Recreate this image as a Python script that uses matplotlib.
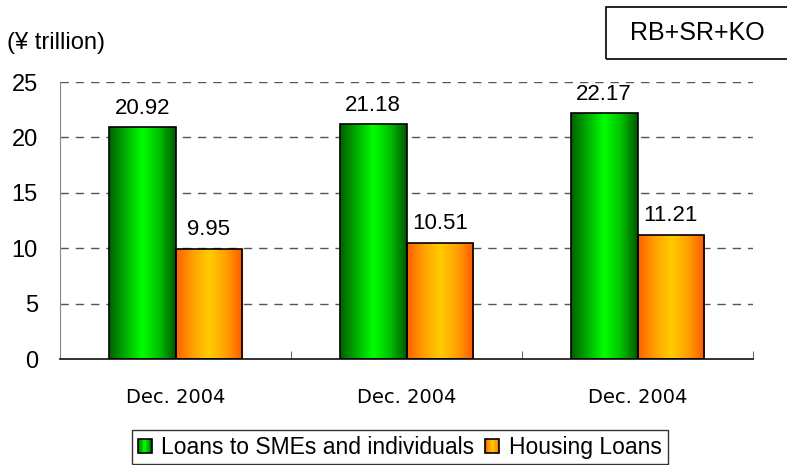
import numpy as np
import matplotlib
matplotlib.use("Agg")
import matplotlib.pyplot as plt
from matplotlib.colors import LinearSegmentedColormap
from matplotlib.patches import Rectangle
from matplotlib.legend_handler import HandlerPatch

categories = ["Dec. 2004", "Dec. 2004", "Dec. 2004"]
sme_loans = [20.92, 21.18, 22.17]
housing_loans = [9.95, 10.51, 11.21]
series_names = ["Loans to SMEs and individuals", "Housing Loans"]
y_ticks = [0, 5, 10, 15, 20, 25]

plt.rcParams['font.family'] = ['Liberation Sans', 'DejaVu Sans']

green_cmap = LinearSegmentedColormap.from_list(
    "g", ["#006000", "#00b000", "#00ff00", "#00c000", "#005800"])
orange_cmap = LinearSegmentedColormap.from_list(
    "o", ["#ff6000", "#ffa000", "#ffcc00", "#ffa000", "#ff5800"])

fig = plt.figure(figsize=(7.87, 4.65), dpi=100)
ax = fig.add_axes([60/787, 1-359/465, (753-60)/787, (359-82)/465])

x = np.arange(len(categories))
w = 0.288
grad = np.linspace(0, 1, 256).reshape(1, -1)


def gradient_bars(bars, cmap):
    for b in bars:
        x0, y0 = b.get_x(), b.get_y()
        im = ax.imshow(grad, cmap=cmap, aspect='auto',
                       extent=[x0, x0 + b.get_width(), y0, y0 + b.get_height()],
                       zorder=2, interpolation='bilinear')
        im.set_clip_path(b)


b1 = ax.bar(x - w/2, sme_loans, w, facecolor='none', edgecolor='black', linewidth=1.2, zorder=3)
b2 = ax.bar(x + w/2, housing_loans, w, facecolor='none', edgecolor='black', linewidth=1.2, zorder=3)
gradient_bars(b1, green_cmap)
gradient_bars(b2, orange_cmap)

for xi, v in zip(x - w/2, sme_loans):
    ax.text(xi, v + 1.2, f"{v:.2f}", ha='center', va='baseline', fontsize=16)
for xi, v in zip(x + w/2, housing_loans):
    ax.text(xi, v + 1.2, f"{v:.2f}", ha='center', va='baseline', fontsize=16)

ax.set_xlim(-0.5, len(categories) - 0.5)
ax.set_ylim(0, 25)
ax.set_yticks(y_ticks)
ax.set_yticklabels([str(t) for t in y_ticks], fontsize=17)
ax.tick_params(axis='y', length=0, pad=16)
for t in y_ticks[1:]:
    ax.axhline(t, color='#555555', linestyle=(0, (6, 5)), linewidth=1.0, zorder=1)

ax.set_xticks(x)
ax.set_xticklabels(categories, fontsize=14, family=['DejaVu Sans'])
ax.tick_params(axis='x', length=0, pad=21)
# minor ticks at category boundaries
ax.set_xticks(np.arange(-0.5, len(categories)), minor=True)
ax.tick_params(axis='x', which='minor', direction='in', length=6, color='#444444')

ax.spines['top'].set_visible(False)
ax.spines['right'].set_visible(False)
ax.spines['left'].set_color('#888888')
ax.spines['bottom'].set_color('#222222')
ax.spines['bottom'].set_linewidth(1.3)

fig.text(7/787, 1-43/465, "(¥ trillion)", fontsize=17, va='center', ha='left')

fig.text(697/787, 1-33/465, "RB+SR+KO", fontsize=18, ha='center', va='center')
fig.patches.append(Rectangle((606/787, 1-59/465), 200/787, 52/465,
                             transform=fig.transFigure, facecolor='none',
                             edgecolor='black', linewidth=1.2))


class GradHandler(HandlerPatch):
    def __init__(self, cmap):
        super().__init__()
        self.cmap = cmap

    def create_artists(self, legend, orig_handle, xdescent, ydescent, width, height, fontsize, trans):
        s = height * 1.0
        x0 = -xdescent + (width - s) / 2
        y0 = -ydescent
        arts = []
        n = 10
        for i in range(n):
            r = Rectangle((x0 + s*i/n, y0), s/n, s, facecolor=self.cmap((i + 0.5)/n),
                          edgecolor='none', transform=trans)
            arts.append(r)
        arts.append(Rectangle((x0, y0), s, s, facecolor='none', edgecolor='black',
                              linewidth=1.2, transform=trans))
        return arts


h1 = Rectangle((0, 0), 1, 1, facecolor='#00ff00')
h2 = Rectangle((0, 0), 1, 1, facecolor='#ffcc00')
leg = fig.legend([h1, h2], series_names, loc='upper center', bbox_to_anchor=(400/787, 1-430/465),
                 ncol=2, fontsize=16.5, frameon=True, fancybox=False, edgecolor='black',
                 handlelength=0.57, handleheight=0.57, handletextpad=0.44, columnspacing=0.5,
                 borderpad=0.25, borderaxespad=0,
                 handler_map={h1: GradHandler(green_cmap), h2: GradHandler(orange_cmap)})
leg.get_frame().set_linewidth(1.0)

fig.savefig("out.png", dpi=100)
